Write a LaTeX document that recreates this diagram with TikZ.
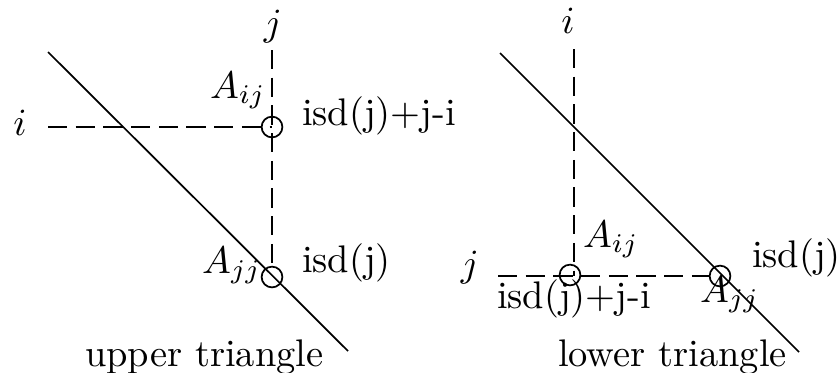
\documentclass[tikz,border=0pt]{standalone}
\begin{document}
\begin{tikzpicture}[x=0.26pt,y=-0.26pt,
  line width=0.45pt,
  lbl/.style={inner sep=0pt, outer sep=0pt},
  ring/.style={circle, draw, inner sep=0pt, minimum size=5.4pt},
  dsh/.style={dash pattern=on 5pt off 2.2pt},
  diag/.style={line width=0.45pt}]
\useasboundingbox (0,0) rectangle (838,372);
% ---------- upper triangle ----------
\coordinate (dL1) at (48,52);
\coordinate (dL2) at (348,351);
\draw[diag] (dL1) -- (dL2);
\node[ring] (cTL) at (272,127) {};
\node[ring] (cBL) at (272,277) {};
\coordinate (vTL) at (272,50);
\coordinate (hLL) at (48,127);
\draw[dsh] (vTL) -- (cBL.north);
\draw[dsh] (hLL) -- (cTL.center);
\node[lbl, anchor=base] (jL) at (273,35) {$j$};
\node[lbl, anchor=base] (iL) at (20,135) {$i$};
\node[lbl, anchor=base west] (AijL) at (210,98) {$A_{ij}$};
\node[lbl, anchor=base west] (AjjL) at (202,273) {$A_{jj}$};
\node[lbl, anchor=base west] (t1L) at (302,125) {isd(j)+j-i};
\node[lbl, anchor=base west] (t2L) at (302,272) {isd(j)};
\node[lbl, anchor=base west] (capL) at (85,366) {upper triangle};
% ---------- lower triangle ----------
\coordinate (dR1) at (500,53);
\coordinate (dR2) at (799,352);
\draw[diag] (dR1) -- (dR2);
\node[ring] (cLR) at (570,275) {};
\node[ring] (cRR) at (720,276) {};
\coordinate (vTR) at (574,49);
\coordinate (vBR) at (574,276);
\coordinate (hLR) at (498,276);
\draw[dsh] (vTR) -- (vBR);
\draw[dsh] (hLR) -- (cRR.west);
\node[lbl, anchor=base] (iR) at (568,33) {$i$};
\node[lbl, anchor=base] (jR) at (470,276) {$j$};
\node[lbl, anchor=base west] (AijR) at (583,247) {$A_{ij}$};
\node[lbl, anchor=base west] (AjjR) at (700,302) {$A_{jj}$};
\node[lbl, anchor=base west] (t1R) at (497,308) {isd(j)+j-i};
\node[lbl, anchor=base west] (t2R) at (752,267) {isd(j)};
\node[lbl, anchor=base west] (capR) at (558,366) {lower triangle};
\end{tikzpicture}
\end{document}
